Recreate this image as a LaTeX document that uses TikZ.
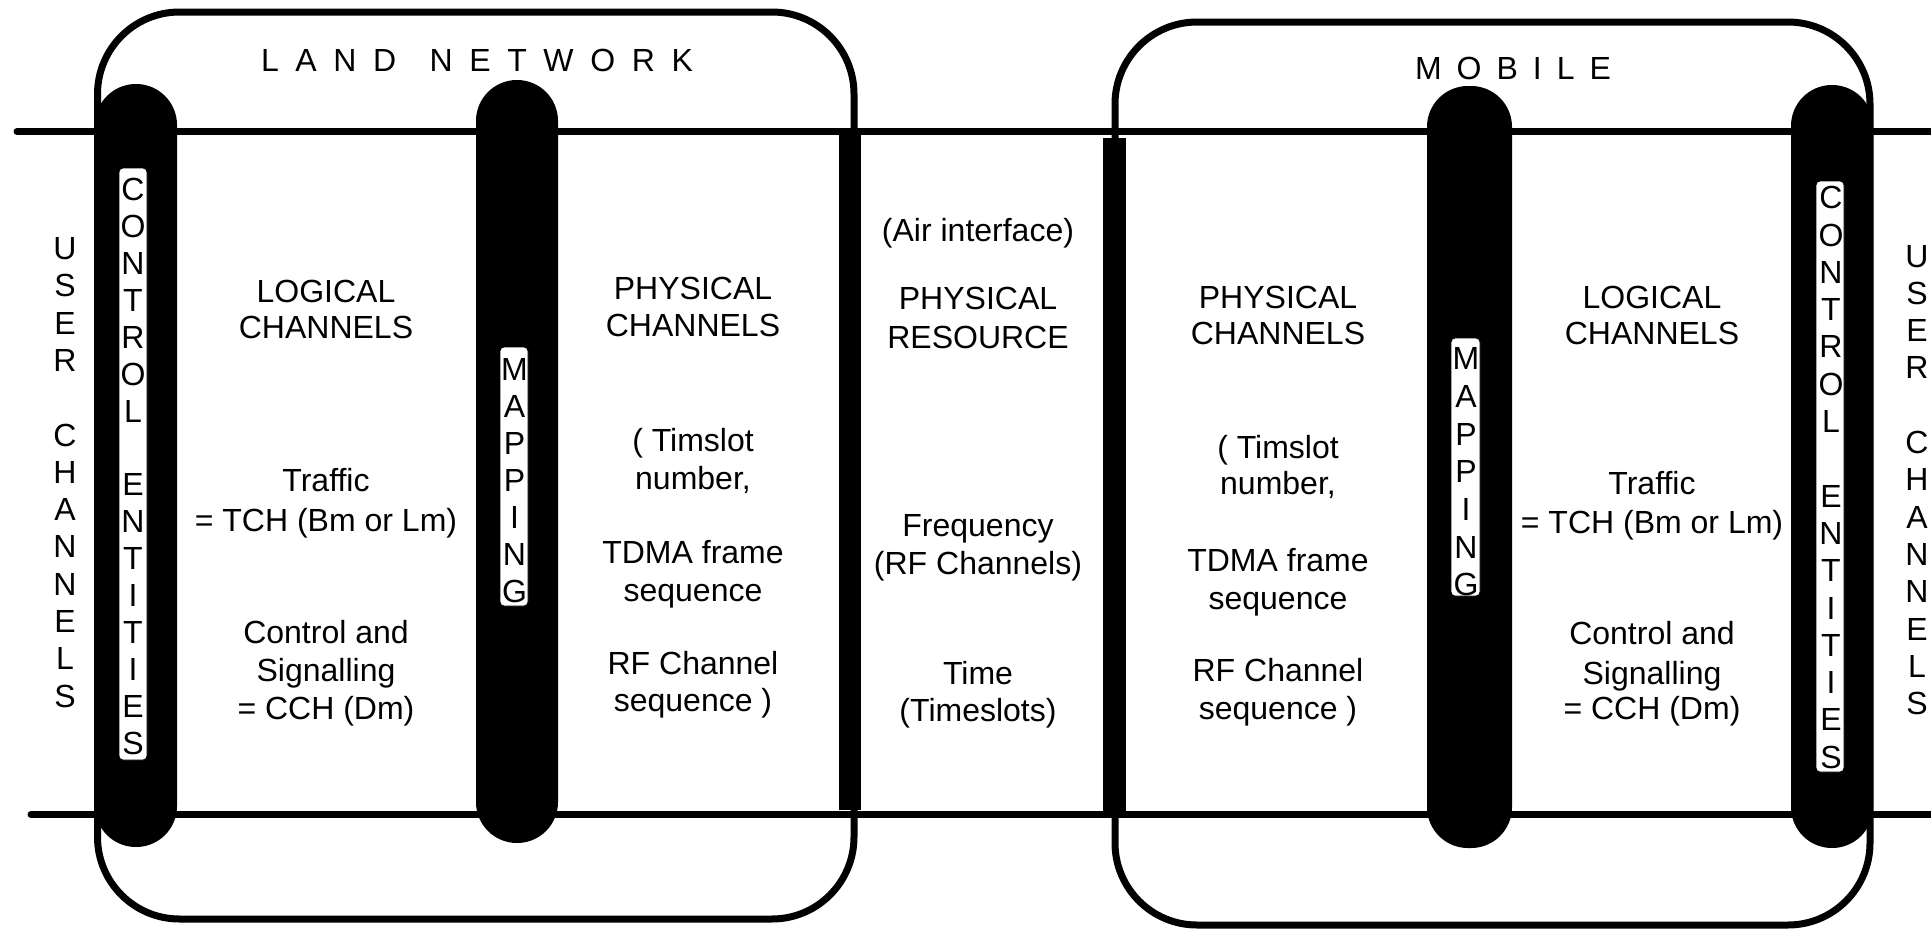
\documentclass[tikz,border=0pt]{standalone}
\usepackage{fontspec}
\setmainfont{Liberation Sans}
\begin{document}
\begin{tikzpicture}[x=1pt,y=-1pt,
  frame/.style={line width=7pt},
  hline/.style={line width=7pt, line cap=round},
  pill/.style={fill=black, draw=none, rounded corners=40.9pt},
  strip/.style={fill=white, draw=black, line width=0.8pt, rounded corners=4pt},
  txt/.style={inner sep=0pt, font=\fontsize{32}{37}\selectfont, anchor=base},
  vtxt/.style={inner sep=0pt, align=center, font=\fontsize{32}{37.3}\selectfont},
  title/.style={inner sep=0pt, font=\fontsize{32}{37}\selectfont}
]
\useasboundingbox (0,0) rectangle (1931,929);
\fill[white] (0,0) rectangle (1931,929);
% enclosing boxes
\draw[frame, rounded corners=82pt] (97.5,12) rectangle (854,919);
\draw[frame, rounded corners=82pt] (1115,22) rectangle (1870,925);
% channel lines
\draw[hline] (17,131.5) -- (1936,131.5);
\draw[hline] (31,814.5) -- (1936,814.5);
% air interface bars
\fill (839,135) rectangle (861,810);
\fill (1103,138) rectangle (1126,813);
% pills
\path[pill] (95,84) rectangle (177,847);
\path[pill] (476,80) rectangle (558,843);
\path[pill] (1427,86) rectangle (1512,848);
\path[pill] (1791,85) rectangle (1873,848);
% white strips
\draw[strip] (119,168) rectangle (147,760);
\draw[strip] (1816,181) rectangle (1844,772);
\draw[strip] (500,347) rectangle (528,606);
\draw[strip] (1451,338) rectangle (1480,596);

% titles
\node[title] (landt) at (477,60) {\makebox[432pt][s]{L\hfill A\hfill N\hfill D\hfill\hfill N\hfill E\hfill T\hfill W\hfill O\hfill R\hfill K}};
\node[title] (mobt) at (1513,68) {\makebox[196pt][s]{M\hfill O\hfill B\hfill I\hfill L\hfill E}};

% vertical texts
\node[vtxt] (userl) at (65,472.5) {U\\S\\E\\R\\\mbox{}\\C\\H\\A\\N\\N\\E\\L\\S};
\node[vtxt] (userr) at (1917,480) {U\\S\\E\\R\\\mbox{}\\C\\H\\A\\N\\N\\E\\L\\S};
\node[vtxt, font=\fontsize{32}{36.9}\selectfont] (ctrll) at (133,466.5) {C\\O\\N\\T\\R\\O\\L\\\mbox{}\\E\\N\\T\\I\\T\\I\\E\\S};
\node[vtxt] (ctrlr) at (1831,477.5) {C\\O\\N\\T\\R\\O\\L\\\mbox{}\\E\\N\\T\\I\\T\\I\\E\\S};
\node[vtxt, font=\fontsize{32}{37}\selectfont] (mapl) at (514.5,481) {M\\A\\P\\P\\I\\N\\G};
\node[vtxt, font=\fontsize{32}{37.7}\selectfont] (mapr) at (1466,472) {M\\A\\P\\P\\I\\N\\G};

% land logical channels
\node[txt] (ll1) at (326,302) {LOGICAL};
\node[txt] (ll2) at (326,338) {CHANNELS};
\node[txt] (ll3) at (326,491) {Traffic};
\node[txt] (ll4) at (326,531) {= TCH (Bm or Lm)};
\node[txt] (ll5) at (326,643) {Control and};
\node[txt] (ll6) at (326,681) {Signalling};
\node[txt] (ll7) at (326,719) {= CCH (Dm)};
% land physical channels
\node[txt] (lp1) at (693,299) {PHYSICAL};
\node[txt] (lp2) at (693,336) {CHANNELS};
\node[txt] (lp3) at (693,451) {( Timslot};
\node[txt] (lp4) at (693,489) {number,};
\node[txt] (lp5) at (693,563) {TDMA frame};
\node[txt] (lp6) at (693,601) {sequence};
\node[txt] (lp7) at (693,674) {RF Channel};
\node[txt] (lp8) at (693,711) {sequence )};
% air interface
\node[txt] (ai1) at (978,241) {(Air interface)};
\node[txt] (ai2) at (978,309) {PHYSICAL};
\node[txt] (ai3) at (978,348) {RESOURCE};
\node[txt] (ai4) at (978,536) {Frequency};
\node[txt] (ai5) at (978,574) {(RF Channels)};
\node[txt] (ai6) at (978,684) {Time};
\node[txt] (ai7) at (978,721) {(Timeslots)};
% mobile physical channels
\node[txt] (mp1) at (1278,308) {PHYSICAL};
\node[txt] (mp2) at (1278,344) {CHANNELS};
\node[txt] (mp3) at (1278,458) {( Timslot};
\node[txt] (mp4) at (1278,494) {number,};
\node[txt] (mp5) at (1278,571) {TDMA frame};
\node[txt] (mp6) at (1278,609) {sequence};
\node[txt] (mp7) at (1278,681) {RF Channel};
\node[txt] (mp8) at (1278,719) {sequence )};
% mobile logical channels
\node[txt] (ml1) at (1652,308) {LOGICAL};
\node[txt] (ml2) at (1652,344) {CHANNELS};
\node[txt] (ml3) at (1652,494) {Traffic};
\node[txt] (ml4) at (1652,533) {= TCH (Bm or Lm)};
\node[txt] (ml5) at (1652,644) {Control and};
\node[txt] (ml6) at (1652,684) {Signalling};
\node[txt] (ml7) at (1652,719) {= CCH (Dm)};
\end{tikzpicture}
\end{document}
